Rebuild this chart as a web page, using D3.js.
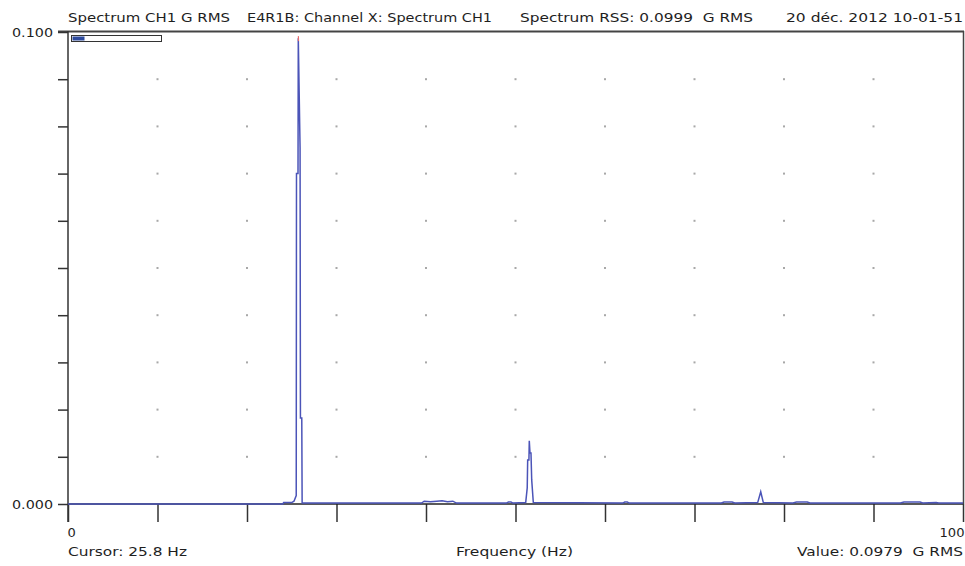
<!DOCTYPE html>
<html>
<head>
<meta charset="utf-8">
<script src="https://cdn.jsdelivr.net/npm/d3@7"></script>
<style>
  body { margin: 0; background: #fff; }
  svg text { font-family: "DejaVu Sans", Verdana, sans-serif; fill: #1e1e1e; }
</style>
</head>
<body>
<div id="chart"></div>
<script>
// spectrum points (Hz, G RMS)
const freqs = [0, 24.0, 24.1, 25.0, 25.25, 25.5, 25.53, 25.7, 25.73, 25.93, 25.97, 26.12, 26.16,
  39.5, 39.8, 40.5, 41.2, 41.8, 42.4, 43.0, 43.4,
  49.0, 49.2, 49.5, 49.7,
  51.14, 51.31, 51.36, 51.5, 51.54, 51.62, 51.73, 51.81, 51.99,
  62.0, 62.2, 62.5, 62.7,
  73.0, 73.3, 74.2, 74.5,
  77.06, 77.4, 77.69,
  81.0, 81.4, 82.6, 82.9,
  93.0, 93.4, 95.2, 95.5, 97.0, 97.3, 100];
const amps = [0, 0, 0.0003, 0.0003, 0.0006, 0.0018, 0.0700, 0.0700, 0.0987, 0.0755, 0.0182, 0.0182, 0.0002,
  0.0002, 0.0006, 0.0005, 0.0006, 0.0007, 0.0005, 0.0006, 0.0002,
  0.0002, 0.0004, 0.0004, 0.0002,
  0.0003, 0.0034, 0.0093, 0.0093, 0.0134, 0.0108, 0.0108, 0.0051, 0.0003,
  0.0002, 0.0004, 0.0004, 0.0002,
  0.0002, 0.0004, 0.0004, 0.0002,
  0.0003, 0.0026, 0.0003,
  0.0002, 0.0004, 0.0004, 0.0002,
  0.0002, 0.0004, 0.0004, 0.0002, 0.0003, 0.0002, 0.0002];

const xTicks = d3.range(0, 101, 10);
const yTicks = d3.range(0, 0.1001, 0.01);
const cursorHz = 25.8;
const cursorValue = 0.0987;

const width = 965, height = 566;
const fontSize = '13px';
const svg = d3.select('#chart').append('svg')
    .attr('width', width)
    .attr('height', height);

const x = d3.scaleLinear().domain([0, 100]).range([68, 963]);
const y = d3.scaleLinear().domain([0, 0.1]).range([504, 32]);

// header (w = width measured on the picture, the original font is wider)
const header = [
    { t: 'Spectrum CH1 G RMS', x: 68, w: 162 },
    { t: 'E4R1B: Channel X: Spectrum CH1', x: 247, w: 245 },
    { t: 'Spectrum RSS: 0.0999  G RMS', x: 520, w: 233 },
    { t: '20 déc. 2012 10-01-51', x: 786, w: 177 }
];
svg.selectAll('text.head')
    .data(header)
    .enter().append('text')
    .attr('class', 'head')
    .attr('x', d => d.x)
    .attr('y', 22)
    .attr('textLength', d => d.w)
    .attr('lengthAdjust', 'spacingAndGlyphs')
    .style('font-size', fontSize)
    .style('white-space', 'pre')
    .text(d => d.t);

// frame: top and right
svg.append('line')
    .attr('x1', 58).attr('x2', 964)
    .attr('y1', 31.5).attr('y2', 31.5)
    .attr('stroke', '#444').attr('stroke-width', 2);
svg.append('line')
    .attr('x1', 963.5).attr('x2', 963.5)
    .attr('y1', 31).attr('y2', 504)
    .attr('stroke', '#444').attr('stroke-width', 1.5);

// grid dots
const dots = [];
xTicks.slice(1, -1).forEach(a => yTicks.slice(1, -1).forEach(b => dots.push([a, b])));
svg.append('g').selectAll('rect')
    .data(dots)
    .enter().append('rect')
    .attr('x', d => x(d[0]) - 1)
    .attr('y', d => y(d[1]) - 1)
    .attr('width', 2).attr('height', 2)
    .attr('fill', '#a8a8a8');

// y axis
const yAxis = d3.axisLeft(y)
    .tickValues(yTicks)
    .tickSize(10)
    .tickPadding(5)
    .tickFormat(d => (Math.abs(d) < 1e-9 || Math.abs(d - 0.1) < 1e-9) ? d3.format('.3f')(d) : '');
const yG = svg.append('g')
    .attr('transform', 'translate(68,0)')
    .call(yAxis);
yG.select('.domain').remove();
yG.selectAll('.tick line').attr('stroke', '#333').attr('stroke-width', 1.5);
yG.selectAll('.tick text')
    .style('font-size', fontSize)
    .style('font-family', '"DejaVu Sans", Verdana, sans-serif')
    .attr('fill', '#1e1e1e')
    .filter(d => Math.abs(d) < 1e-9 || Math.abs(d - 0.1) < 1e-9)
    .attr('textLength', 41)
    .attr('lengthAdjust', 'spacingAndGlyphs');

// x axis
const xAxis = d3.axisBottom(x)
    .tickValues(xTicks)
    .tickSize(18)
    .tickPadding(6)
    .tickFormat(d => (d === 0 || d === 100) ? d : '');
const xG = svg.append('g')
    .attr('transform', 'translate(0,504)')
    .call(xAxis);
xG.select('.domain').remove();
xG.selectAll('.tick line').attr('stroke', '#333').attr('stroke-width', 1.5);
xG.selectAll('.tick text')
    .style('font-size', fontSize)
    .style('font-family', '"DejaVu Sans", Verdana, sans-serif')
    .attr('fill', '#1e1e1e');
xG.selectAll('.tick text').filter(d => d === 0).attr('text-anchor', 'start').attr('x', -1);
xG.selectAll('.tick text').filter(d => d === 100)
    .attr('text-anchor', 'end').attr('x', 1)
    .attr('textLength', 25).attr('lengthAdjust', 'spacingAndGlyphs');

// axis lines
svg.append('line')
    .attr('x1', 68).attr('x2', 963)
    .attr('y1', y(0)).attr('y2', y(0))
    .attr('stroke', '#222').attr('stroke-width', 1.5);
svg.append('line')
    .attr('x1', 68).attr('x2', 68)
    .attr('y1', 31).attr('y2', 522)
    .attr('stroke', '#333').attr('stroke-width', 1.5);

// spectrum trace
const line = d3.line()
    .x((d, i) => x(freqs[i]))
    .y((d, i) => y(amps[i]));
svg.append('path')
    .datum(amps)
    .attr('d', line)
    .attr('fill', 'none')
    .attr('stroke', '#4b54b8')
    .attr('stroke-width', 1.5);

// cursor mark
svg.append('line')
    .attr('x1', x(cursorHz) - 0.5).attr('x2', x(cursorHz) - 0.5)
    .attr('y1', y(cursorValue) - 2).attr('y2', y(cursorValue) + 3)
    .attr('stroke', '#e86a6a').attr('stroke-width', 1.2);

// zoom indicator bar
svg.append('rect')
    .attr('x', 71.5).attr('y', 35.5).attr('width', 90).attr('height', 6)
    .attr('fill', '#fff').attr('stroke', '#333').attr('stroke-width', 1);
svg.append('rect')
    .attr('x', 72.5).attr('y', 36.5).attr('width', 12).attr('height', 4)
    .attr('fill', '#2d4a9e');

// footer
const footer = [
    { t: 'Cursor: 25.8 Hz', x: 68, w: 119 },
    { t: 'Frequency (Hz)', x: 456, w: 117 },
    { t: 'Value: 0.0979  G RMS', x: 797, w: 166 }
];
svg.selectAll('text.foot')
    .data(footer)
    .enter().append('text')
    .attr('class', 'foot')
    .attr('x', d => d.x)
    .attr('y', 556)
    .attr('textLength', d => d.w)
    .attr('lengthAdjust', 'spacingAndGlyphs')
    .style('font-size', fontSize)
    .style('white-space', 'pre')
    .text(d => d.t);
</script>
</body>
</html>
